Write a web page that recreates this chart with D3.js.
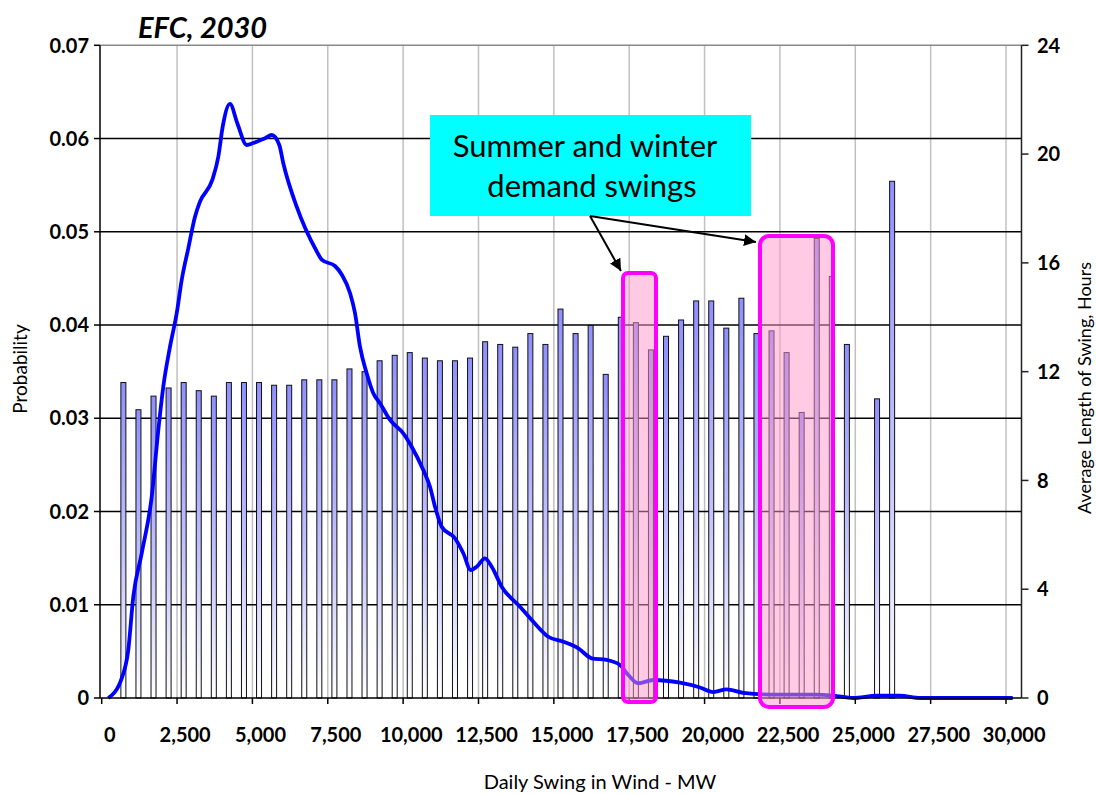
<!DOCTYPE html>
<html><head><meta charset="utf-8">
<script src="https://cdn.jsdelivr.net/npm/d3@7/dist/d3.min.js"></script>
<style>body{margin:0;background:#fff}svg{display:block}</style>
</head><body><svg id="c" width="1096" height="794"></svg>
<script>
// ---- data ----
const binMW = [500,1000,1500,2000,2500,3000,3500,4000,4500,5000,5500,6000,6500,7000,7500,8000,8500,9000,9500,10000,10500,11000,11500,12000,12500,13000,13500,14000,14500,15000,15500,16000,16500,17000,17500,18000,18500,19000,19500,20000,20500,21000,21500,22000,22500,23000,23500,24000,24500,25000,25500,26000];
const avgHours = [11.6,10.6,11.1,11.4,11.6,11.3,11.1,11.6,11.6,11.6,11.5,11.5,11.7,11.7,11.7,12.1,12.0,12.4,12.6,12.7,12.5,12.4,12.4,12.5,13.1,13.0,12.9,13.4,13.0,14.3,13.4,13.7,11.9,14.0,13.8,12.8,13.3,13.9,14.6,14.6,13.6,14.7,13.4,13.5,12.7,10.5,16.9,15.5,13.0,0,11.0,19.0];
const curveMW = [0,444,663,829,1108,1440,1659,1824,2047,2269,2435,2654,2876,3042,3450,3649,3795,4037,4279,4591,4923,5198,5420,5672,5805,6249,6890,7089,7520,7752,8017,8183,8349,8571,8790,9013,9344,9785,10064,10449,10671,10837,11059,11500,11776,12021,12220,12495,12718,13049,13657,14098,14595,15093,15590,16035,16532,16973,17249,17580,18078,18964,19627,20068,20513,21064,22171,23498,24049,24712,25489,26261,26925,30000];
const curveProb = [0,0.00211,0.00515,0.01086,0.01552,0.02159,0.02874,0.03339,0.03768,0.04126,0.04483,0.04823,0.05162,0.05323,0.05556,0.05805,0.06127,0.06371,0.06164,0.05931,0.05966,0.06003,0.06038,0.05931,0.05735,0.05269,0.04805,0.04698,0.04633,0.04537,0.04344,0.04129,0.03768,0.03482,0.03268,0.03161,0.02982,0.02839,0.02695,0.02445,0.02266,0.02052,0.01837,0.01713,0.01552,0.01373,0.01408,0.01498,0.01408,0.01194,0.00979,0.00818,0.00657,0.00604,0.00533,0.00426,0.00408,0.00354,0.00247,0.00158,0.00193,0.00164,0.00113,0.00064,0.00093,0.00055,0.00036,0.00036,0.00025,0,0.00025,0.00025,0,0];
const xTicks = [0,2500,5000,7500,10000,12500,15000,17500,20000,22500,25000,27500,30000];
const probTicks = [0,0.01,0.02,0.03,0.04,0.05,0.06,0.07];
const hourTicks = [0,4,8,12,16,20,24];
const highlightMW = [[17073,18168],[21617,24039]];
const highlightTopHours = [15.63,16.99];
const highlightBottomHours = [-0.15,-0.33];
const titleText = "EFC, 2030";
const noteLines = ["Summer and winter", "demand swings"];

// ---- layout ----
const svg = d3.select("#c");
const FONT = "Lato, 'Open Sans', sans-serif";
const pTop = 45.3, pBottom = 698, pLeft = 100, pRight = 1021.5;

const x = d3.scaleLinear().domain([0,30000]).range([108.3,1012.7]);
const xg = d3.scaleLinear().domain([0,30000]).range([101.7,1006]);
const yP = d3.scaleLinear().domain([0,0.07]).range([pBottom, pTop]);
const yH = d3.scaleLinear().domain([0,24]).range([pBottom, pTop]);

svg.append("rect").attr("width",1096).attr("height",794).attr("fill","#fff");

const defs = svg.append("defs");
const g1 = defs.append("linearGradient").attr("id","barGrad").attr("x1",0).attr("y1",0).attr("x2",0).attr("y2",1);
g1.append("stop").attr("offset","0%").attr("stop-color","#8f8fff");
g1.append("stop").attr("offset","55%").attr("stop-color","#c4c4ff");
g1.append("stop").attr("offset","100%").attr("stop-color","#ffffff");

// vertical gridlines
svg.append("g").selectAll("line").data(xTicks.slice(1)).join("line")
  .attr("x1",d=>xg(d)).attr("x2",d=>xg(d)).attr("y1",pTop).attr("y2",pBottom)
  .attr("stroke","#c0c0c0").attr("stroke-width",1.5);
// horizontal gridlines
svg.append("g").selectAll("line").data(probTicks.slice(1,-1)).join("line")
  .attr("x1",pLeft).attr("x2",pRight).attr("y1",d=>yP(d)).attr("y2",d=>yP(d))
  .attr("stroke","#000").attr("stroke-width",1.4);
// top border
svg.append("line").attr("x1",pLeft).attr("x2",pRight).attr("y1",pTop).attr("y2",pTop)
  .attr("stroke","#8a8a8a").attr("stroke-width",1.5);

// bars
const bw = 5;
svg.append("g").selectAll("rect").data(binMW.map((m,i)=>({m,h:avgHours[i]})).filter(d=>d.h>0)).join("rect")
  .attr("x",d=>x(d.m)-bw/2).attr("width",bw)
  .attr("y",d=>yH(d.h)).attr("height",d=>yH(0)-yH(d.h))
  .attr("fill","url(#barGrad)").attr("stroke","#111").attr("stroke-width",1);

// line
const lineGen = d3.line().x(d=>x(d[0])).y(d=>yP(d[1])).curve(d3.curveMonotoneX);
svg.append("path").datum(curveMW.map((m,i)=>[m,curveProb[i]]))
  .attr("d",lineGen).attr("fill","none").attr("stroke","#0000ff").attr("stroke-width",3.8)
  .attr("stroke-linejoin","round");

// axes lines
svg.append("line").attr("x1",pLeft).attr("x2",pLeft).attr("y1",pTop).attr("y2",pBottom).attr("stroke","#000").attr("stroke-width",1.5);
svg.append("line").attr("x1",pRight).attr("x2",pRight).attr("y1",pTop).attr("y2",pBottom).attr("stroke","#222").attr("stroke-width",1.5);
svg.append("line").attr("x1",pLeft).attr("x2",pRight).attr("y1",pBottom).attr("y2",pBottom).attr("stroke","#000").attr("stroke-width",1.5);

// left ticks
const lt = svg.append("g");
lt.selectAll("line").data(probTicks).join("line")
  .attr("x1",pLeft-6).attr("x2",pLeft).attr("y1",d=>yP(d)).attr("y2",d=>yP(d)).attr("stroke","#000").attr("stroke-width",1.5);
lt.selectAll("text").data(probTicks).join("text")
  .attr("x",89).attr("y",d=>yP(d)).attr("dy","0.36em").attr("text-anchor","end")
  .attr("font-family",FONT).attr("font-weight","bold").attr("font-size",20)
  .text(d=>d===0?"0":d3.format(".2f")(d));
// right ticks
const rt = svg.append("g");
rt.selectAll("line").data(hourTicks).join("line")
  .attr("x1",pRight).attr("x2",pRight+7).attr("y1",d=>yH(d)).attr("y2",d=>yH(d)).attr("stroke","#222").attr("stroke-width",1.5);
rt.selectAll("text").data(hourTicks).join("text")
  .attr("x",1037).attr("y",d=>yH(d)).attr("dy","0.36em").attr("text-anchor","start")
  .attr("font-family",FONT).attr("font-weight","bold").attr("font-size",20)
  .text(d=>d);
// bottom ticks
const bt = svg.append("g");
bt.selectAll("line").data(xTicks).join("line")
  .attr("x1",d=>xg(d)).attr("x2",d=>xg(d)).attr("y1",pBottom).attr("y2",pBottom+6).attr("stroke","#000").attr("stroke-width",1.5);
bt.selectAll("text").data(xTicks).join("text")
  .attr("x",d=>x(d)+1.5).attr("y",742).attr("text-anchor","middle")
  .attr("font-family",FONT).attr("font-weight","bold").attr("font-size",20)
  .text(d=>d3.format(",")(d));

// axis titles
svg.append("text").attr("x",600).attr("y",789).attr("text-anchor","middle")
  .attr("font-family",FONT).attr("font-size",20).text("Daily Swing in Wind - MW");
svg.append("text").attr("transform","translate(27,369) rotate(-90)").attr("text-anchor","middle")
  .attr("font-family",FONT).attr("font-size",19).text("Probability");
svg.append("text").attr("transform","translate(1091,388) rotate(-90)").attr("text-anchor","middle")
  .attr("font-family",FONT).attr("font-size",18).text("Average Length of Swing, Hours");

// chart title
svg.append("text").attr("x",138).attr("y",37.5)
  .attr("font-family",FONT).attr("font-weight","bold").attr("font-style","italic").attr("font-size",29)
  .text(titleText);

// highlight boxes
svg.append("g").selectAll("rect").data(highlightMW.map((r,i)=>({r,t:highlightTopHours[i],b:highlightBottomHours[i],i}))).join("rect")
  .attr("x",d=>x(d.r[0])).attr("width",d=>x(d.r[1])-x(d.r[0]))
  .attr("y",d=>yH(d.t)).attr("height",d=>yH(d.b)-yH(d.t))
  .attr("rx",d=>d.i===0?5:9)
  .attr("fill","rgba(255,150,200,0.5)").attr("stroke","#ff00ff").attr("stroke-width",4);

// annotation
defs.append("marker").attr("id","arr").attr("viewBox","0 0 10 10").attr("refX",10).attr("refY",5)
  .attr("markerWidth",6).attr("markerHeight",6).attr("orient","auto-start-reverse").attr("markerUnits","strokeWidth")
  .append("path").attr("d","M0,0 L10,5 L0,10 z").attr("fill","#000");
const note = svg.append("g");
note.append("rect").attr("x",430).attr("y",115).attr("width",321).attr("height",101).attr("fill","#00ffff");
note.append("text").attr("x",585).attr("y",157).attr("text-anchor","middle")
  .attr("font-family",FONT).attr("font-size",31).text(noteLines[0]);
note.append("text").attr("x",592).attr("y",197).attr("text-anchor","middle")
  .attr("font-family",FONT).attr("font-size",31).text(noteLines[1]);
note.append("line").attr("x1",590).attr("y1",216).attr("x2",621).attr("y2",271)
  .attr("stroke","#000").attr("stroke-width",2).attr("marker-end","url(#arr)");
note.append("line").attr("x1",590).attr("y1",216).attr("x2",756).attr("y2",242)
  .attr("stroke","#000").attr("stroke-width",2).attr("marker-end","url(#arr)");
</script></body></html>
